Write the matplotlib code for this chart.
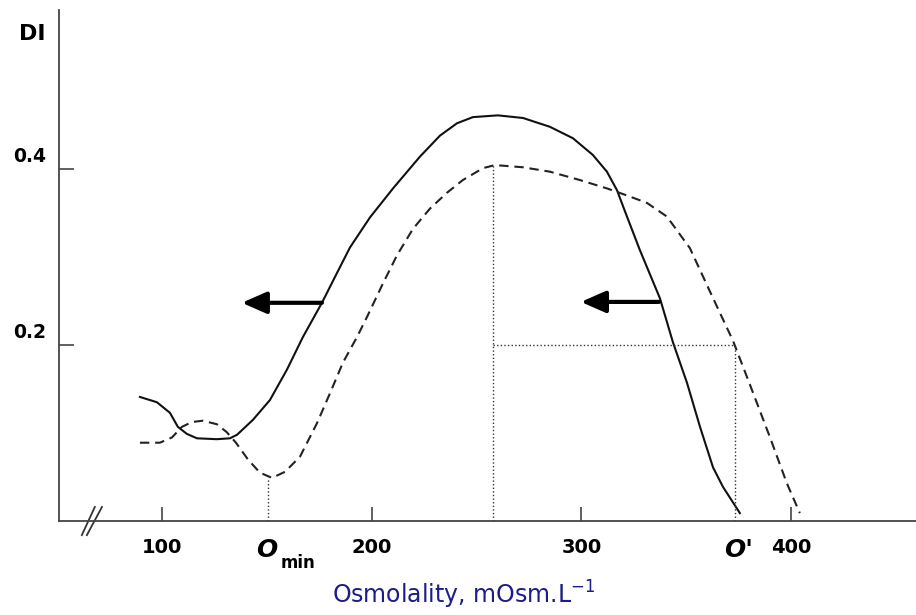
import matplotlib.pyplot as plt

# solid curve (control)
solid_x = [89.5, 97.6, 103.8, 107.6, 111.9, 116.7, 126.2, 132.4, 135.8, 143.4,
           151.5, 159.6, 167.2, 176.3, 183.5, 189.7, 199.2, 210.2, 223.0, 232.6,
           240.7, 248.3, 260.2, 272.2, 285.0, 296.0, 305.5, 312.2, 317.0, 320.8,
           327.9, 337.5, 343.7, 350.4, 356.6, 362.8, 367.5, 375.6]
solid_y = [0.141, 0.135, 0.123, 0.107, 0.099, 0.094, 0.093, 0.094, 0.098, 0.115,
           0.1375, 0.172, 0.209, 0.248, 0.282, 0.311, 0.345, 0.378, 0.414, 0.438,
           0.452, 0.459, 0.461, 0.458, 0.448, 0.435, 0.416, 0.397, 0.376, 0.352,
           0.308, 0.253, 0.203, 0.157, 0.107, 0.061, 0.039, 0.009]

# dashed curve
dash_x = [89.5, 99.0, 104.8, 109.5, 114.3, 119.5, 126.2, 130.9, 135.3, 141.0,
          146.7, 152.5, 158.7, 165.8, 173.9, 180.1, 186.3, 193.0, 197.8, 205.4,
          212.1, 219.7, 227.8, 235.9, 243.5, 253.1, 258.8, 272.2, 285.0, 299.3,
          312.2, 321.7, 331.3, 340.8, 351.8, 361.3, 372.3, 380.4, 389.9, 398.0,
          404.2]
dash_y = [0.089, 0.089, 0.095, 0.107, 0.1125, 0.114, 0.110, 0.101, 0.089, 0.070,
          0.055, 0.049, 0.056, 0.073, 0.111, 0.145, 0.180, 0.209, 0.232, 0.270,
          0.302, 0.332, 0.355, 0.373, 0.3875, 0.401, 0.4045, 0.402, 0.397, 0.3875,
          0.378, 0.370, 0.3615, 0.346, 0.310, 0.261, 0.205, 0.155, 0.0955, 0.043,
          0.009]

o_min = 150.5
o_min_di = 0.049
peak_x = 257.8
peak_di = 0.4045
o_prime = 373.2
half_di = 0.2

arrows = [(176.3, 138.1, 0.248), (337.0, 299.8, 0.249)]

xticks = [100, 200, 300, 400]
yticks = [0.2, 0.4]

fig = plt.figure(figsize=(9.16, 6.15), dpi=100)
ax = fig.add_axes([0.0644, 0.1528, 0.9356, 0.8309])
ax.set_xlim(50.9, 459.6)
ax.set_ylim(0, 0.5807)

ax.plot(solid_x, solid_y, color='#111111', lw=1.5, solid_joinstyle='round')
ax.plot(dash_x, dash_y, color='#222222', lw=1.5, dashes=(4.5, 2.8),
        dash_joinstyle='round')

dot = dict(color='#333333', lw=1.0, linestyle=(0, (1, 1.6)))
ax.plot([o_min, o_min], [0, o_min_di], **dot)
ax.plot([peak_x, peak_x], [0, peak_di], **dot)
ax.plot([o_prime, o_prime], [0, half_di], **dot)
ax.plot([peak_x, o_prime], [half_di, half_di], **dot)

for x0, x1, yy in arrows:
    ax.annotate('', xy=(x1, yy), xytext=(x0, yy),
                arrowprops=dict(arrowstyle='-|>,head_length=0.75,head_width=0.33',
                                lw=3, color='black', mutation_scale=20,
                                shrinkA=0, shrinkB=0))

for s in ['top', 'right']:
    ax.spines[s].set_visible(False)
for s in ['left', 'bottom']:
    ax.spines[s].set_color('#444444')
    ax.spines[s].set_linewidth(1.3)

ax.set_xticks(xticks)
ax.set_xticklabels([str(t) for t in xticks], fontsize=14, fontweight='bold')
ax.tick_params(axis='x', direction='in', length=10, width=1.2, pad=12,
               colors='#444444', labelcolor='black')
ax.set_yticks(yticks)
ax.set_yticklabels([])
ax.tick_params(axis='y', direction='in', length=11, width=1.2, colors='#444444')

for t in yticks:
    ax.annotate('%.1f' % t, xy=(0, t), xycoords=('axes fraction', 'data'),
                xytext=(-21, 9), textcoords='offset points',
                ha='center', va='center', fontsize=13.5, fontweight='bold')

ax.annotate('DI', xy=(0, 1), xycoords='axes fraction', xytext=(-19, -17),
            textcoords='offset points', ha='center', va='center',
            fontsize=16, fontweight='bold')

# axis break
for bx in [(61.8, 68.0), (64.2, 71.4)]:
    ax.plot(bx, [-0.016, 0.016], color='#333333', lw=1.3, clip_on=False)

# O_min and O'
ax.annotate('O', xy=(o_min, 0), xycoords='data', xytext=(-1, -21),
            textcoords='offset points', ha='center', va='center',
            fontsize=18, fontweight='bold', fontstyle='italic')
ax.annotate('min', xy=(o_min, 0), xycoords='data', xytext=(22, -30),
            textcoords='offset points', ha='center', va='center',
            fontsize=12, fontweight='bold')
ax.annotate("O'", xy=(o_prime, 0), xycoords='data', xytext=(3, -21),
            textcoords='offset points', ha='center', va='center',
            fontsize=18, fontweight='bold', fontstyle='italic')

fig.text(464 / 916, 1 - 595 / 615, r'Osmolality, mOsm.L$^{-1}$',
         ha='center', va='center', fontsize=17, color='#1c1c8a')

fig.savefig('out.png', dpi=100)
